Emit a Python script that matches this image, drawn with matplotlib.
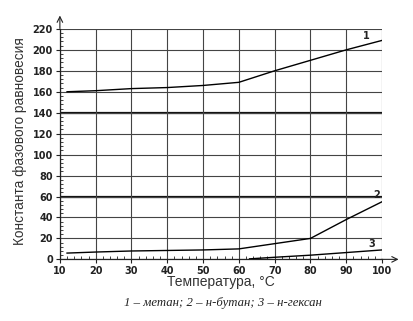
import matplotlib
matplotlib.use('Agg')
import matplotlib.pyplot as plt
from matplotlib.ticker import MultipleLocator

# temperature, °C and equilibrium constants
t_methane = [12, 20, 30, 40, 50, 60, 70, 80, 90, 100]
k_methane = [160, 161, 163, 164, 166, 169, 180, 190, 200, 209]
t_butane = [12, 20, 30, 40, 50, 60, 70, 80, 90, 100]
k_butane = [6, 7, 8, 8.5, 9, 10, 15, 20, 38, 55]
t_hexane = [63, 70, 80, 90, 100]
k_hexane = [0.5, 2, 4, 6.5, 9]

curve_labels = ['1', '2', '3']
label_pos = [(95.5, 213), (98.5, 61), (97, 15)]
caption = '1 – метан; 2 – н-бутан; 3 – н-гексан'

fig = plt.figure(figsize=(4.13, 3.21), dpi=100)
ax = fig.add_axes([0.145, 0.192, 0.78, 0.718])

ax.set_xlim(10, 100)
ax.set_ylim(0, 220)
ax.xaxis.set_major_locator(MultipleLocator(10))
ax.yaxis.set_major_locator(MultipleLocator(20))
ax.xaxis.set_minor_locator(MultipleLocator(2))
ax.yaxis.set_minor_locator(MultipleLocator(4))
ax.grid(True, which='major', color='#444444', lw=0.8)
for y in (60, 140):
    ax.axhline(y, color='#111111', lw=1.6, zorder=1)

for s in ('top', 'right'):
    ax.spines[s].set_visible(False)
for s in ('left', 'bottom'):
    ax.spines[s].set_color('#222222')
    ax.spines[s].set_linewidth(0.9)

ax.tick_params(which='major', length=3, width=0.8, direction='out', color='#222222', pad=2)
ax.tick_params(which='minor', length=2, width=0.6, direction='in', color='#222222')
for lab in ax.get_xticklabels() + ax.get_yticklabels():
    lab.set_fontweight('bold')
    lab.set_fontsize(7)
    lab.set_color('#222222')

# arrows at axis ends
ax.annotate('', xy=(0, 1.07), xytext=(0, 0.99), xycoords='axes fraction',
            arrowprops=dict(arrowstyle='->', color='#222222', lw=0.8), annotation_clip=False)
ax.annotate('', xy=(1.06, 0), xytext=(0.99, 0), xycoords='axes fraction',
            arrowprops=dict(arrowstyle='->', color='#222222', lw=0.8), annotation_clip=False)

ax.plot(t_methane, k_methane, color='black', lw=1.0, zorder=3)
ax.plot(t_butane, k_butane, color='black', lw=1.0, zorder=3)
ax.plot(t_hexane, k_hexane, color='black', lw=1.0, zorder=3)

for txt, (x, y) in zip(curve_labels, label_pos):
    ax.text(x, y, txt, fontsize=7, fontweight='bold', ha='center', va='center', color='#222222')

fig.text(0.048, 0.56, 'Константа фазового равновесия', family='Liberation Sans', fontsize=9.8,
         rotation=90, ha='center', va='center', color='#333333')
fig.text(0.535, 0.12, 'Температура, °C', family='Liberation Sans', fontsize=10,
         ha='center', va='center', color='#333333')
fig.text(0.54, 0.056, caption, family='Liberation Serif', style='italic', fontsize=9.2,
         ha='center', va='center', color='#222222')

fig.savefig('out.png', dpi=100)
